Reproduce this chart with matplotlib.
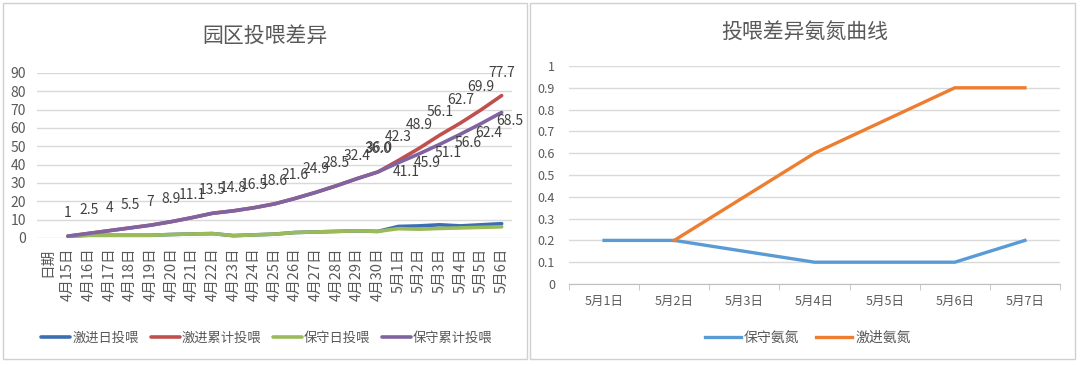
import matplotlib as mpl
import matplotlib.pyplot as plt
import numpy as np
from matplotlib.patches import Rectangle

plt.rcParams['font.family'] = ['Noto Sans CJK SC', 'DejaVu Sans']

# left chart: park feeding comparison
dates = ['日期'] + ['4月%d日' % d for d in range(15, 31)] + ['5月%d日' % d for d in range(1, 7)]
aggr_daily = [1, 1.5, 1.5, 1.5, 1.5, 1.9, 2.2, 2.4, 1.3, 1.7, 2.1, 3.0, 3.3, 3.6, 3.9, 3.6,
              6.3, 6.6, 7.2, 6.6, 7.2, 7.8]
aggr_cum = [1, 2.5, 4, 5.5, 7, 8.9, 11.1, 13.5, 14.8, 16.5, 18.6, 21.6, 24.9, 28.5, 32.4, 36.0,
            42.3, 48.9, 56.1, 62.7, 69.9, 77.7]
cons_daily = [1, 1.5, 1.5, 1.5, 1.5, 1.9, 2.2, 2.4, 1.3, 1.7, 2.1, 3.0, 3.3, 3.6, 3.9, 3.6,
              5.1, 4.8, 5.2, 5.5, 5.8, 6.1]
cons_cum = [1, 2.5, 4, 5.5, 7, 8.9, 11.1, 13.5, 14.8, 16.5, 18.6, 21.6, 24.9, 28.5, 32.4, 36.0,
            41.1, 45.9, 51.1, 56.6, 62.4, 68.5]
left_names = ['激进日投喂', '激进累计投喂', '保守日投喂', '保守累计投喂']

# right chart: ammonia nitrogen
nh_dates = ['5月%d日' % d for d in range(1, 8)]
nh_cons = [0.2, 0.2, 0.15, 0.1, 0.1, 0.1, 0.2]
nh_aggr = [np.nan, 0.2, 0.4, 0.6, 0.75, 0.9, 0.9]

W, H = 1080, 366
fig = plt.figure(figsize=(W / 100, H / 100), dpi=100)

def fx(px):
    return px / W

def fy(py):
    return 1 - py / H

# panel borders
for x0, x1 in [(3, 527), (530, 1075)]:
    fig.patches.append(Rectangle((fx(x0), fy(359)), fx(x1 - x0), (359 - 3) / H,
                                 transform=fig.transFigure, fill=False,
                                 edgecolor='#d0d0d0', lw=1.0))

grid_c = '#d9d9d9'
txt_c = '#595959'

# ---------- left ----------
ax = fig.add_axes([fx(37), fy(238), fx(512 - 37), (238 - 73) / H])
xs = np.arange(1, len(dates))
ax.plot(xs, aggr_daily, color='#3C6EB4', lw=2.6, solid_capstyle='round', label=left_names[0])
ax.plot(xs, aggr_cum, color='#C0504D', lw=2.6, solid_capstyle='round', label=left_names[1])
ax.plot(xs, cons_daily, color='#9BBB59', lw=2.6, solid_capstyle='round', label=left_names[2])
ax.plot(xs, cons_cum, color='#8064A2', lw=2.6, solid_capstyle='round', label=left_names[3])
for x, v in zip(xs, aggr_cum):
    ax.annotate('%g' % v if v != int(v) or v < 36 else '%.1f' % v, (x, v),
                xytext=(0, 23), textcoords='offset pixels', ha='center', va='center',
                fontsize=10, color='#404040')
for x, v in list(zip(xs, cons_cum))[15:]:
    off = (1, 24) if x == 16 else (8, -9)
    ax.annotate('%.1f' % v, (x, v), xytext=off, textcoords='offset pixels',
                ha='center', va='center', fontsize=10, color='#404040')
ax.set_xlim(-0.5, len(dates) - 0.5)
ax.set_ylim(0, 90)
ax.set_yticks(range(0, 91, 10))
ax.set_xticks(range(len(dates)))
ax.set_xticklabels(dates, rotation=90, fontsize=10.5, color=txt_c)
ax.tick_params(axis='y', labelsize=10, colors=txt_c, length=0, pad=8)
ax.tick_params(axis='x', length=0, pad=7)
ax.grid(axis='y', color=grid_c, lw=1)
ax.set_axisbelow(True)
for s in ax.spines.values():
    s.set_visible(False)
fig.text(fx(265), fy(36), '园区投喂差异', ha='center', va='center', fontsize=15, color=txt_c)
h, l = ax.get_legend_handles_labels()
fig.legend(h, l, loc='center', bbox_to_anchor=(fx(267), fy(338)), ncol=4, frameon=False,
           fontsize=9.5, labelcolor=txt_c, handlelength=2.2, handletextpad=0.15,
           columnspacing=0.9)

# ---------- right ----------
ax2 = fig.add_axes([fx(569), fy(284), fx(1060 - 569), (284 - 66) / H])
xr = np.arange(len(nh_dates))
ax2.plot(xr, nh_cons, color='#5B9BD5', lw=2.4, label='保守氨氮')
ax2.plot(xr, nh_aggr, color='#ED7D31', lw=2.4, label='激进氨氮')
ax2.set_xlim(-0.5, len(nh_dates) - 0.5)
ax2.set_ylim(0, 1)
ax2.set_yticks(np.round(np.arange(0, 1.01, 0.1), 1))
ax2.set_yticklabels(['0'] + ['%.1f' % v for v in np.arange(0.1, 0.95, 0.1)] + ['1'])
ax2.set_xticks(xr)
ax2.set_xticklabels(nh_dates, fontsize=9, color=txt_c)
ax2.set_xticks(np.arange(-0.5, len(nh_dates)), minor=True)
ax2.tick_params(axis='x', which='major', length=0, pad=8)
ax2.tick_params(axis='x', which='minor', length=4, color='#bfbfbf')
ax2.tick_params(axis='y', labelsize=9, colors=txt_c, length=0, pad=10)
ax2.grid(axis='y', color=grid_c, lw=1)
ax2.set_axisbelow(True)
for k, s in ax2.spines.items():
    s.set_visible(k == 'bottom')
ax2.spines['bottom'].set_color('#bfbfbf')
fig.text(fx(805), fy(32), '投喂差异氨氮曲线', ha='center', va='center', fontsize=15, color=txt_c)
h2, l2 = ax2.get_legend_handles_labels()
fig.legend(h2, l2, loc='center', bbox_to_anchor=(fx(808), fy(338)), ncol=2, frameon=False,
           fontsize=10, labelcolor=txt_c, handlelength=2.6, handletextpad=0.2,
           columnspacing=1.2)

fig.savefig('out.png', dpi=100)
